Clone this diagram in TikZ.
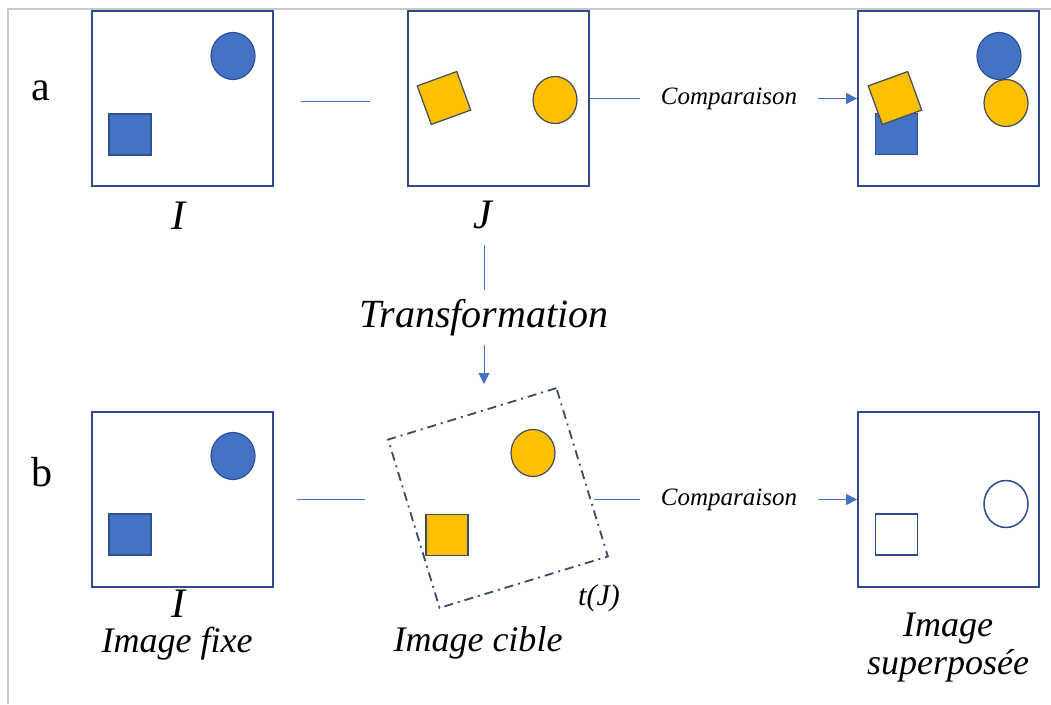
\documentclass[tikz,border=0pt]{standalone}
\usepackage{fontspec}
\setmainfont{Liberation Serif}
\usetikzlibrary{arrows.meta,shapes.geometric}
\definecolor{boxblue}{HTML}{2F4B8C}
\definecolor{fillblue}{HTML}{4472C4}
\definecolor{edgeblue}{HTML}{2F528F}
\definecolor{fillyel}{HTML}{FFC000}
\definecolor{edgeyel}{HTML}{3F4A5E}
\definecolor{dashcol}{HTML}{3B4A66}
\definecolor{framegray}{HTML}{C8C8C8}
\begin{document}
\begin{tikzpicture}[x=1pt,y=-1pt,
  imgbox/.style={draw=boxblue, line width=1.8pt, minimum width=181pt, minimum height=175pt, inner sep=0pt},
  bluecirc/.style={ellipse, draw=edgeblue, fill=fillblue, line width=1.2pt, minimum width=44pt, minimum height=47pt, inner sep=0pt},
  yelcirc/.style={ellipse, draw=edgeyel, fill=fillyel, line width=1.2pt, minimum width=44pt, minimum height=47pt, inner sep=0pt},
  bluesq/.style={draw=edgeblue, fill=fillblue, line width=1.2pt, minimum width=42pt, minimum height=41pt, inner sep=0pt},
  yelsq/.style={draw=edgeyel, fill=fillyel, line width=1.2pt, minimum width=42pt, minimum height=41pt, inner sep=0pt},
  emptysq/.style={draw=boxblue, line width=1.5pt, minimum width=42pt, minimum height=41pt, inner sep=0pt},
  emptycirc/.style={ellipse, draw=boxblue, line width=1.5pt, minimum width=44pt, minimum height=47pt, inner sep=0pt},
  conn/.style={draw=fillblue, line width=0.9pt},
  arr/.style={conn, -{Triangle[length=11pt,width=11pt]}},
  rowlab/.style={font=\fontsize{42}{42}\selectfont, anchor=base, inner sep=0pt},
  itlab/.style={font=\fontsize{42}{42}\selectfont\itshape, anchor=base, inner sep=0pt},
  caplab/.style={font=\fontsize{36}{36}\selectfont\itshape, anchor=base, inner sep=0pt},
  cmplab/.style={font=\fontsize{25}{25}\selectfont\itshape, inner sep=0pt, minimum width=178pt}
]
\useasboundingbox (0,0) rectangle (1051,704);
\fill[white] (0,0) rectangle (1051,704);
\draw[framegray, line width=1.5pt] (8,704) -- (8,9) -- (1051,9);

% row a
\node[rowlab] (la) at (41,100) {a};
\node[imgbox] (A1) at (182.5,98.5) {};
\node[imgbox] (A2) at (498.5,98.5) {};
\node[imgbox] (A3) at (948.5,98.5) {};
\node[bluecirc] (A1c) at (233,56) {};
\node[bluesq] (A1s) at (130,134.5) {};
\node[yelsq, rotate=20] (A2s) at (444,98) {};
\node[yelcirc] (A2c) at (555,100) {};
\node[bluesq] (A3s) at (896.5,134) {};
\node[yelsq, rotate=20] (A3y) at (895,98) {};
\node[bluecirc] (A3c) at (999,56) {};
\node[yelcirc] (A3d) at (1006,103) {};
\node[itlab] (IA) at (178,229) {I};
\node[itlab] (JA) at (483,228) {J};
\node[cmplab] (cmpA) at (729,98.5) {Comparaison};
\coordinate (aL1) at (370,101);
\draw[conn, shorten <=27pt] (A1.east |- aL1) -- (aL1);
\draw[conn] (A2.east) -- (cmpA.west);
\draw[arr] (cmpA.east) -- (A3.west);

% transformation
\node[font=\fontsize{40}{40}\selectfont\itshape, inner sep=0pt, minimum height=55pt] (TR) at (484,317.5) {Transformation};
\coordinate (trTop) at (484,245);
\draw[conn] (trTop) -- (TR.north);
\coordinate (trEnd) at (484,384);
\draw[arr] (TR.south) -- (trEnd);

% row b
\node[rowlab] (lb) at (42,486) {b};
\node[imgbox] (B1) at (182.5,499.5) {};
\node[imgbox] (B3) at (948.5,499.5) {};
\node[bluecirc] (B1c) at (233,456) {};
\node[bluesq] (B1s) at (130,534.5) {};
\node[draw=dashcol, line width=1.8pt, dash pattern=on 9pt off 5pt on 2pt off 5pt, minimum width=176pt, minimum height=176pt, inner sep=0pt, rotate=17] (B2) at (498,498) {};
\node[yelcirc] (B2c) at (533,453) {};
\node[yelsq] (B2s) at (447,535) {};
\node[emptysq] (B3s) at (896.5,534.5) {};
\node[emptycirc] (B3c) at (1006,504) {};
\node[cmplab] (cmpB) at (729,499.5) {Comparaison};
\coordinate (bL1) at (365,499.5);
\draw[conn, shorten <=23pt] (B1.east) -- (bL1);
\coordinate (bR0) at (594,499.5);
\draw[conn] (bR0) -- (cmpB.west);
\draw[arr] (cmpB.east) -- (B3.west);

\node[itlab] (IB) at (178,617) {I};
\node[caplab] (fixe) at (177,652) {Image fixe};
\node[caplab] (cible) at (478,651) {Image cible};
\node[font=\fontsize{30}{30}\selectfont\itshape, anchor=base, inner sep=0pt] (tJ) at (599,605) {t(J)};
\node[caplab] (sup1) at (948,636) {Image};
\node[caplab] (sup2) at (948,674) {superposée};
\end{tikzpicture}
\end{document}
